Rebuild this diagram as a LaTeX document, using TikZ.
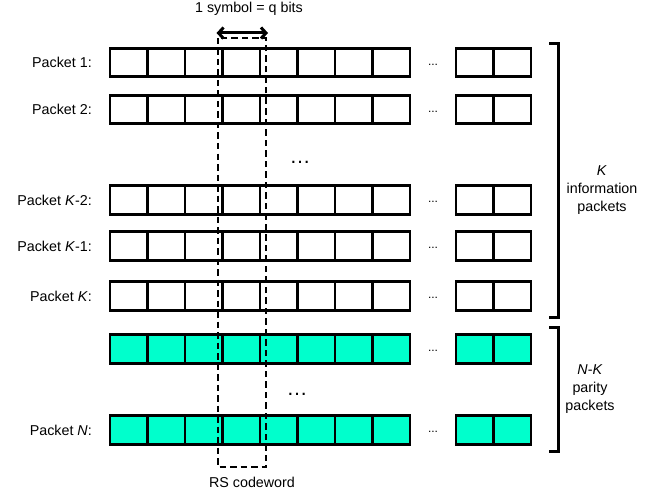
\documentclass[tikz,border=0pt]{standalone}
\usepackage{fontspec}
\setmainfont{Liberation Sans}
\usetikzlibrary{arrows.meta}
\definecolor{paritycol}{HTML}{00FFCC}

\begin{document}
\begin{tikzpicture}[x=1pt,y=-1pt,
  cell/.style={draw, line width=2.7pt, minimum width=37.5pt, minimum height=28.5pt,
               inner sep=0pt, outer sep=0pt},
  rowlabel/.style={anchor=east, inner sep=0pt, font=\fontsize{14.3}{16}\selectfont},
  smalldots/.style={inner sep=0pt, font=\fontsize{12}{12}\selectfont},
  bigdots/.style={inner sep=0pt, anchor=base, font=\fontsize{21}{21}\selectfont},
  caption/.style={inner sep=0pt, font=\fontsize{14.3}{16}\selectfont},
  sidelabel/.style={inner sep=0pt, align=center, font=\fontsize{14.3}{18}\selectfont},
  bracket/.style={line width=3pt},
  codeword/.style={line width=2.6pt, dash pattern=on 6.5pt off 4pt},
  symarrow/.style={line width=3pt, {Straight Barb[length=5pt,width=11pt]}-{Straight Barb[length=5pt,width=11pt]}}]
\useasboundingbox (0,0) rectangle (661,492);

% packet rows: centre y / name / fill / label
\foreach \y/\r/\fc/\txt in {62.5/p1/white/{Packet 1:},
                            109.5/p2/white/{Packet 2:},
                            200/pk2/white/{Packet \textit{K}-2:},
                            246/pk1/white/{Packet \textit{K}-1:},
                            296/pk/white/{Packet \textit{K}:},
                            349/q1/paritycol/{},
                            430/pn/paritycol/{Packet \textit{N}:}}{
  \foreach \i in {0,...,7}
    \node[cell, fill=\fc] (\r c\i) at (128.75+37.5*\i,\y) {};
  \foreach \j in {0,1}
    \node[cell, fill=\fc] (\r e\j) at (474.75+37.5*\j,\y) {};
  \node[smalldots] (\r dots) at (433,\y+2) {...};
  \node[rowlabel] (\r lbl) at (92,\y) {\txt};
}

% omitted rows
\node[bigdots] (midinfo) at (300,163) {…};
\node[bigdots] (midpar) at (297,395) {…};

% one RS codeword column
\draw[codeword] (218,38) rectangle (266,467);
\coordinate (symL) at (216.5,33);
\coordinate (symR) at (268,33);
\draw[symarrow] (symL) -- (symR);
\node[caption] (symtxt) at (249,9) {1 symbol = q bits};
\node[caption] (cwtxt) at (252,482) {RS codeword};

% brackets
\coordinate (ia) at (549,44);
\coordinate (ib) at (549,317);
\coordinate (pa) at (549,327);
\coordinate (pb) at (549,451);
\draw[bracket] (ia) -- ++(9,0) |- (ib);
\draw[bracket] (pa) -- ++(9,0) |- (pb);
\node[sidelabel] (infolbl) at (602,190) {\textit{K}\\information\\packets};
\node[sidelabel] (parlbl) at (590,389) {\textit{N}-\textit{K}\\parity\\packets};
\end{tikzpicture}
\end{document}
